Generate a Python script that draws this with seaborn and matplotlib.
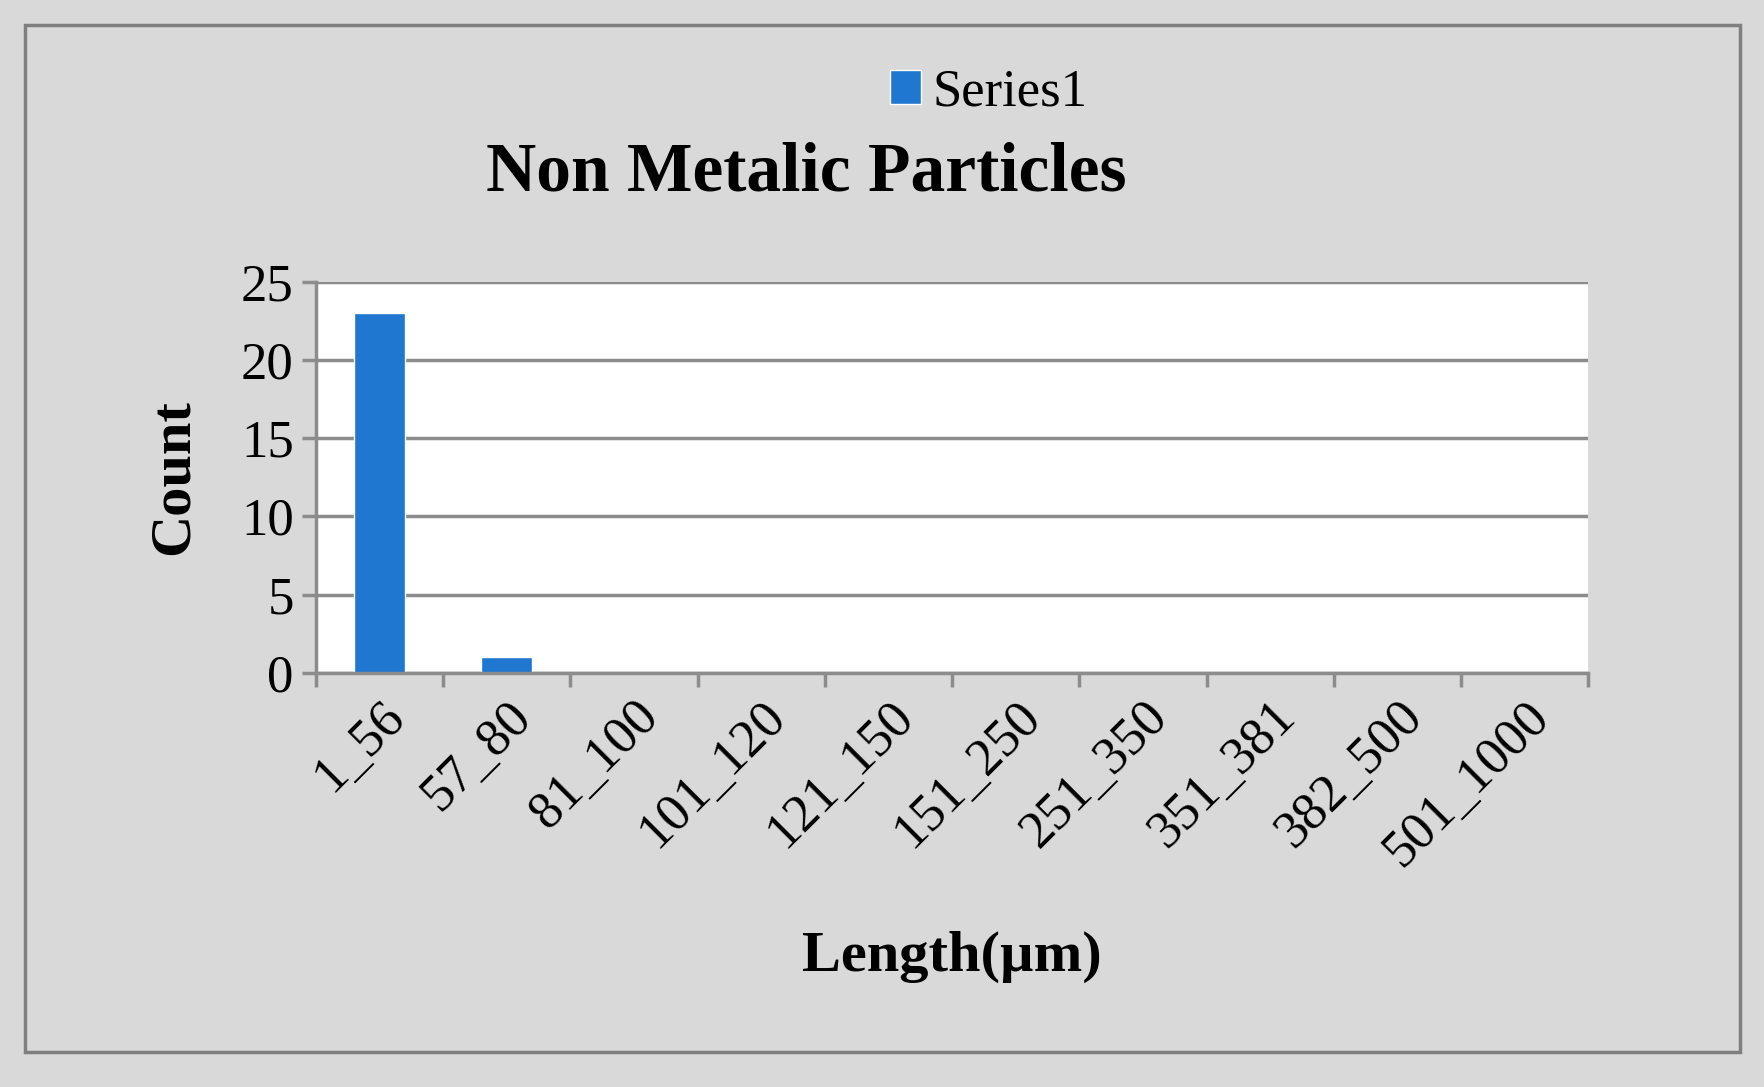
import matplotlib
matplotlib.use('Agg')
import matplotlib.pyplot as plt
import matplotlib.patches as patches
import numpy as np
import pandas as pd
import seaborn as sns

categories = ['1_56', '57_80', '81_100', '101_120', '121_150', '151_250',
              '251_350', '351_381', '382_500', '501_1000']
counts = [23, 1, 0, 0, 0, 0, 0, 0, 0, 0]
yticks = [0, 5, 10, 15, 20, 25]

sns.set_style('white')
plt.rcParams['font.family'] = ['Liberation Serif', 'DejaVu Serif']
plt.rcParams['text.color'] = 'black'
plt.rcParams['xtick.color'] = '#8c8c8c'
plt.rcParams['ytick.color'] = '#8c8c8c'
plt.rcParams['xtick.labelcolor'] = 'black'
plt.rcParams['ytick.labelcolor'] = 'black'
plt.rcParams['axes.labelcolor'] = 'black'

df = pd.DataFrame({'Length': categories, 'Count': counts})

fig = plt.figure(figsize=(17.65, 10.87), dpi=100)
fig.patch.set_facecolor('#d9d9d9')
fig.patches.append(patches.Rectangle((0.014, 0.032), 0.972, 0.945, transform=fig.transFigure,
                                     fill=False, edgecolor='#7f7f7f', linewidth=2.5))
ax = fig.add_axes([0.179, 0.381, 0.721, 0.360])
ax.set_facecolor('white')
sns.barplot(data=df, x='Length', y='Count', color='#1f77d0', saturation=1, width=0.4, ax=ax, label='Series1')

ax.set_ylim(0, 25)
ax.set_xlim(-0.5, len(categories) - 0.5)
ax.set_yticks(yticks)
ax.set_yticklabels([str(v) for v in yticks], fontsize=38)
ax.set_axisbelow(True)
ax.yaxis.grid(True, color='#8c8c8c', linewidth=2.5)
# boundary ticks as major, labels at bar centres as minor
ax.set_xticks(np.arange(-0.5, len(categories)))
ax.set_xticklabels([])
ax.set_xticks(range(len(categories)), minor=True)
ax.set_xticklabels(categories, minor=True, rotation=45, ha='right', rotation_mode='anchor', fontsize=38)
ax.tick_params(axis='x', which='minor', length=0, pad=14)
ax.tick_params(axis='x', which='major', length=10, width=2.5, direction='out', bottom=True)
ax.tick_params(axis='y', length=10, width=2.5, direction='out', left=True, pad=6)
for s in ['top', 'right']:
    ax.spines[s].set_visible(False)
ax.spines['left'].set_color('#8c8c8c')
ax.spines['left'].set_linewidth(2.5)
ax.spines['bottom'].set_color('#8c8c8c')
ax.spines['bottom'].set_linewidth(2.5)

ax.set_xlabel('Length(µm)', fontsize=42, fontweight='bold', labelpad=40)
ax.set_ylabel('Count', fontsize=42, fontweight='bold', labelpad=30)
fig.text(0.457, 0.84, 'Non Metalic Particles', fontsize=50, fontweight='bold', ha='center', va='center')
ax.legend(loc='center', frameon=False, fontsize=38, handlelength=0.6, handleheight=0.6,
          handletextpad=0.2)
ax.get_legend().set_bbox_to_anchor((0.56, 0.915), transform=fig.transFigure)

fig.savefig('out.png', dpi=100, facecolor=fig.get_facecolor())
